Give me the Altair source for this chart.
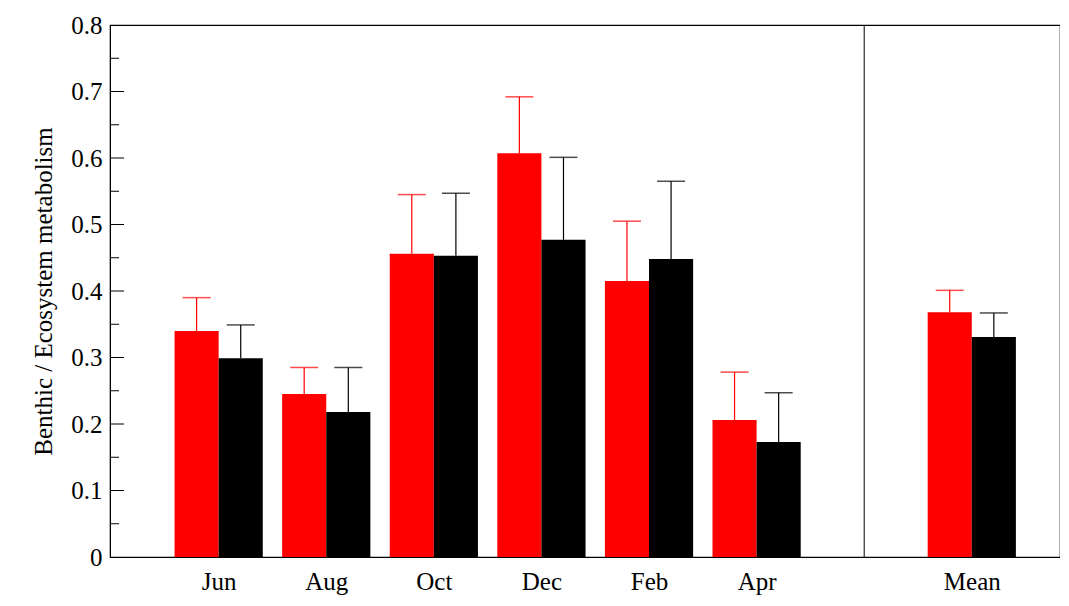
import altair as alt
import pandas as pd

months = ["Jun", "Aug", "Oct", "Dec", "Feb", "Apr", "Mean"]
positions = [0, 1, 2, 3, 4, 5, 7]
red_vals = [0.340, 0.245, 0.456, 0.607, 0.415, 0.206, 0.368]
red_err = [0.390, 0.285, 0.545, 0.692, 0.505, 0.278, 0.401]
black_vals = [0.299, 0.218, 0.453, 0.477, 0.448, 0.173, 0.331]
black_err = [0.349, 0.285, 0.547, 0.601, 0.565, 0.247, 0.367]
major_ticks = [0.1, 0.2, 0.3, 0.4, 0.5, 0.6, 0.7]
minor_ticks = [0.05, 0.15, 0.25, 0.35, 0.45, 0.55, 0.65, 0.75]

half = 0.41
rows = []
for m, p, rv, re, bv, be in zip(months, positions, red_vals, red_err, black_vals, black_err):
    rows.append({"month": m, "x0": p - half, "x1": p, "xc": p - half / 2, "v": rv, "e": re, "grp": "red"})
    rows.append({"month": m, "x0": p, "x1": p + half, "xc": p + half / 2, "v": bv, "e": be, "grp": "black"})
df = pd.DataFrame(rows)

xscale = alt.Scale(domain=[-1.01, 7.82], nice=False, zero=False)
yscale = alt.Scale(domain=[0, 0.8], nice=False)
color = alt.Color("grp:N", scale=alt.Scale(domain=["red", "black"], range=["#ff0000", "#000000"]), legend=None)

label_expr = "{0:'Jun',1:'Aug',2:'Oct',3:'Dec',4:'Feb',5:'Apr',7:'Mean'}[datum.value]"

base = alt.Chart(df)
bars = base.mark_bar().encode(
    x=alt.X("x0:Q", scale=xscale, axis=alt.Axis(
        values=positions, labelExpr=label_expr, title=None, ticks=False, domain=True,
        labelFont="Liberation Serif", labelFontSize=25, labelColor="black", labelPadding=12,
        grid=False, domainColor="black")),
    x2="x1:Q",
    y=alt.Y("v:Q", scale=yscale, axis=alt.Axis(
        values=[0, 0.1, 0.2, 0.3, 0.4, 0.5, 0.6, 0.7, 0.8],
        labelExpr="datum.value == 0 ? '0' : format(datum.value, '.1f')",
        title="Benthic / Ecosystem metabolism", titleFont="Liberation Serif",
        titleFontSize=25, titleFontWeight="normal", titleColor="black", titlePadding=14,
        labelFont="Liberation Serif", labelFontSize=25, labelColor="black",
        ticks=False, grid=False, domainColor="black", labelPadding=8)),
    y2=alt.datum(0),
    color=color,
)
whisk = base.mark_rule(strokeWidth=1.2).encode(
    x=alt.X("xc:Q", scale=xscale), y=alt.Y("v:Q", scale=yscale), y2="e:Q", color=color)
caps = base.mark_tick(orient="horizontal", size=28, thickness=1.5).encode(
    x=alt.X("xc:Q", scale=xscale), y=alt.Y("e:Q", scale=yscale), color=color)

major = alt.Chart(pd.DataFrame({"t": major_ticks})).mark_rule(color="black").encode(
    y=alt.Y("t:Q", scale=yscale), x=alt.value(0), x2=alt.value(14))
minor = alt.Chart(pd.DataFrame({"t": minor_ticks})).mark_rule(color="black").encode(
    y=alt.Y("t:Q", scale=yscale), x=alt.value(0), x2=alt.value(9))
div = alt.Chart(pd.DataFrame({"d": [6.0]})).mark_rule(color="black").encode(
    x=alt.X("d:Q", scale=xscale))

chart = alt.layer(bars, whisk, caps, major, minor, div).properties(
    width=950, height=532, padding={"left": 102, "top": 17, "right": 0, "bottom": 41},
    autosize=alt.AutoSizeParams(type="none"), background="white",
).configure_view(stroke="black", strokeWidth=1.2)

chart.save("out.html", embed_options={"renderer": "svg", "actions": False})
